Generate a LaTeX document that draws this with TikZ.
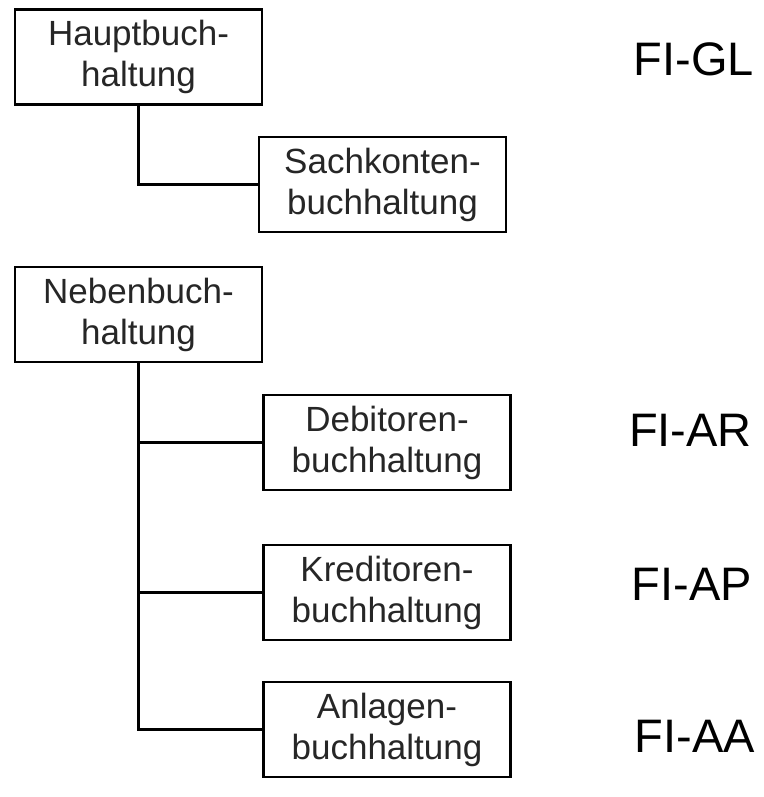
\documentclass[tikz,border=0pt]{standalone}
\usepackage{fontspec}
\setmainfont{Liberation Sans}
\usetikzlibrary{positioning}

\tikzset{
  konto/.style={draw, line width=2.6pt, minimum width=247pt, minimum height=95pt,
    inner sep=0pt, align=center, text=black!85, font=\fontsize{35}{41}\selectfont},
  modul/.style={anchor=base east, inner sep=0pt, font=\fontsize{47}{52}\selectfont},
  linie/.style={line width=2.6pt}
}

\begin{document}
\begin{tikzpicture}[x=1pt, y=1pt]
			%%%%% START %%%%%
			\useasboundingbox (0, 0) rectangle (763, -797);
			
			\node[konto] (haupt) at (138.5, -57) {Hauptbuch-\\haltung};
			\node[konto] (sach) at (382.5, -184.5) {Sachkonten-\\buchhaltung};
			
			\node[konto] (neben) at (138.5, -314.5) {Nebenbuch-\\haltung};
			\node[konto] (debi) at (387, -442.5) {Debitoren-\\buchhaltung};
			\node[konto] (kredi) at (387, -592.5) {Kreditoren-\\buchhaltung};
			\node[konto] (anlag) at (387, -729.5) {Anlagen-\\buchhaltung};
			
			\draw[linie] (haupt.south) |- (sach.west);
			\draw[linie] (neben.south) |- (anlag.west);
			\draw[linie] (neben.south |- debi.west) -- (debi.west);
			\draw[linie] (neben.south |- kredi.west) -- (kredi.west);
			
			\node[modul] (gl) at (754, -76) {FI-GL};
			\node[modul] (ar) at (752, -446) {FI-AR};
			\node[modul] (ap) at (752, -600) {FI-AP};
			\node[modul] (aa) at (755, -752) {FI-AA};
			
			%%%%% END %%%%%
		\end{tikzpicture}
\end{document}
